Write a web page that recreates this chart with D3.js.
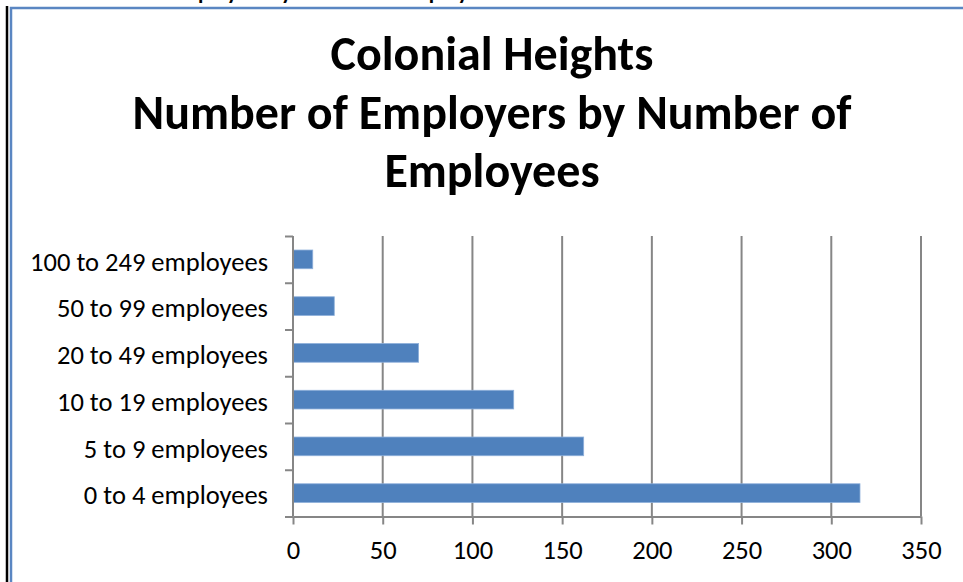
<!DOCTYPE html>
<html>
<head>
<meta charset="utf-8">
<script src="https://cdn.jsdelivr.net/npm/d3@7"></script>
<style>
  html, body { margin: 0; padding: 0; background: #fff; }
  svg { display: block; }
  text { font-family: Calibri, Carlito, Lato, "Open Sans", sans-serif; fill: #000; }
</style>
</head>
<body>
<svg id="chart" width="963" height="582"></svg>
<script>
// Employer counts by establishment size, Colonial Heights
const categories = [
  "100 to 249 employees",
  "50 to 99 employees",
  "20 to 49 employees",
  "10 to 19 employees",
  "5 to 9 employees",
  "0 to 4 employees"
];
const employers = [11, 23, 70, 123, 162, 316];
const xTickValues = [0, 50, 100, 150, 200, 250, 300, 350];
const titleLines = ["Colonial Heights", "Number of Employers by Number of", "Employees"];
const headingAbove = "Number of Employers by Number of Employees";

const svg = d3.select("#chart");
const W = 963, H = 582;

const grid = "#868686";
const barFill = "#4F81BD";

// scale a text element's font size so it spans the given width
function fitWidth(sel, target) {
  sel.each(function () {
    const el = this;
    const fs = parseFloat(el.getAttribute("font-size"));
    const w = el.getComputedTextLength();
    el.setAttribute("font-size", (fs * target / w).toFixed(2));
  });
}

// heading of the page section, mostly above the visible area
const head = svg.append("text")
  .attr("font-size", 22).attr("font-weight", "bold")
  .attr("y", -1).text(headingAbove);
{
  const node = head.node();
  const off = node.getSubStringLength(0, headingAbove.indexOf("Employers") + 2);
  head.attr("x", 198 - off);
}

// chart frame
svg.append("line").attr("x1", 7).attr("x2", 7).attr("y1", 6).attr("y2", H)
  .attr("stroke", "#000").attr("stroke-width", 2.5);
svg.append("path").attr("d", `M11,${H} V8 H${W}`)
  .attr("fill", "none").attr("stroke", "#5A86C2").attr("stroke-width", 2.5);

// title
const title = svg.append("g").attr("font-weight", "bold").attr("text-anchor", "middle");
const titleWidths = [322, 719, 213];
const titleBase = [70, 129, 187];
titleLines.forEach((t, i) => {
  title.append("text").attr("x", 492).attr("y", titleBase[i])
    .attr("font-size", 40).text(t);
});
{
  const t2 = title.selectAll("text").filter((d, i) => i === 1);
  fitWidth(t2, titleWidths[1]);
  const fs = t2.attr("font-size");
  title.selectAll("text").attr("font-size", fs);
}

// scales
const x = d3.scaleLinear().domain([0, 350]).range([293, 921]);
const y = d3.scaleBand().domain(categories).range([236, 516.5])
  .paddingInner(0.6).paddingOuter(0.3);

// vertical gridlines
svg.append("g").selectAll("line")
  .data(xTickValues.filter(v => v > 0))
  .join("line")
  .attr("x1", d => x(d)).attr("x2", d => x(d))
  .attr("y1", y.range()[0]).attr("y2", y.range()[1])
  .attr("stroke", grid).attr("stroke-width", 2);

// bars
svg.append("g").selectAll("rect")
  .data(categories)
  .join("rect")
  .attr("x", x(0))
  .attr("y", d => y(d))
  .attr("width", (d, i) => x(employers[i]) - x(0))
  .attr("height", y.bandwidth())
  .attr("fill", barFill)
  .attr("stroke", "#8EB0DA").attr("stroke-width", 0.8);

// category axis
const yAxis = svg.append("g").attr("transform", `translate(${x(0)},0)`)
  .call(d3.axisLeft(y).tickSize(0).tickPadding(25));
yAxis.select(".domain").remove();
yAxis.selectAll("text")
  .attr("font-size", 24).attr("fill", "#000")
  .attr("font-family", null).attr("dy", "0.42em");
{
  const longest = yAxis.selectAll("text").filter(d => d === "100 to 249 employees");
  fitWidth(longest, 238);
  yAxis.selectAll("text").attr("font-size", longest.attr("font-size"));
}
// category boundary ticks
const boundary = d3.scaleLinear().domain([0, categories.length]).range(y.range());
const yTicks = svg.append("g").attr("transform", `translate(${x(0)},0)`)
  .call(d3.axisLeft(boundary).ticks(categories.length).tickSize(8).tickFormat(""));
yTicks.select(".domain").attr("stroke", grid).attr("stroke-width", 2)
  .attr("d", `M0,${y.range()[0]}V${y.range()[1]}`);
yTicks.selectAll(".tick line").attr("stroke", grid).attr("stroke-width", 2);

// value axis
const xAxis = svg.append("g").attr("transform", `translate(0,${y.range()[1]})`)
  .call(d3.axisBottom(x).tickValues(xTickValues).tickSize(8).tickSizeOuter(0));
xAxis.select(".domain").attr("stroke", grid).attr("stroke-width", 2);
xAxis.selectAll(".tick line").attr("stroke", grid).attr("stroke-width", 2);
xAxis.selectAll("text")
  .attr("font-family", null).attr("fill", "#000")
  .attr("font-size", yAxis.select("text").attr("font-size"))
  .attr("y", 42.5).attr("dy", 0);
</script>
</body>
</html>
